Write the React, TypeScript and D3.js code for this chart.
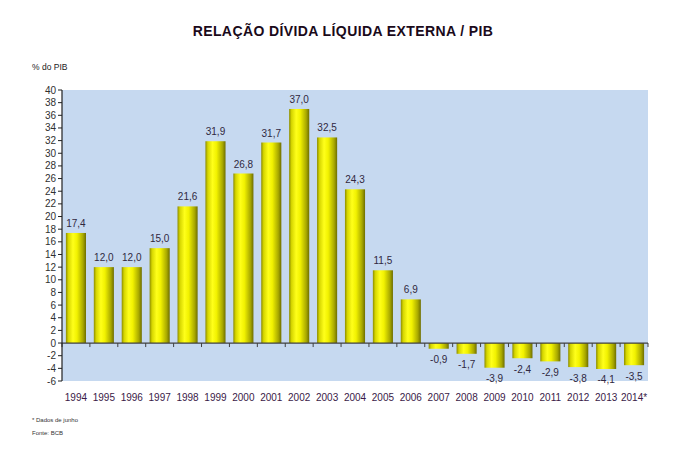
import React from "react";
import * as d3 from "d3";

const years = ["1994","1995","1996","1997","1998","1999","2000","2001","2002","2003","2004","2005","2006","2007","2008","2009","2010","2011","2012","2013","2014*"];
const values = [17.4,12.0,12.0,15.0,21.6,31.9,26.8,31.7,37.0,32.5,24.3,11.5,6.9,-0.9,-1.7,-3.9,-2.4,-2.9,-3.8,-4.1,-3.5];
const yTicks = d3.range(-6, 41, 2);

const W = 680, H = 449;
const left = 62, right = 648, top = 90, bottom = 381;

export default function App() {
  const x = d3.scaleBand<string>().domain(years).range([left, right]).paddingInner(0.28).paddingOuter(0.14);
  const xb = d3.scaleBand<string>().domain(years).range([left, right]);
  const y = d3.scaleLinear().domain([-6, 40]).range([bottom, top]);
  const fmt = (v: number) => v.toFixed(1).replace(".", ",");
  const font = "'Liberation Sans', Arial, sans-serif";
  return (
    <svg width={W} height={H} style={{ position: "absolute", left: 0, top: 0 }} fontFamily={font}>
      <defs>
        <linearGradient id="cyl" x1="0" x2="1" y1="0" y2="0">
          <stop offset="0%" stopColor="#8c8c00" />
          <stop offset="12%" stopColor="#d6d600" />
          <stop offset="35%" stopColor="#ffff1a" />
          <stop offset="55%" stopColor="#f2f200" />
          <stop offset="85%" stopColor="#a8a800" />
          <stop offset="100%" stopColor="#6e6e00" />
        </linearGradient>
      </defs>
      <rect width={W} height={H} fill="#fff" />
      <text x={343} y={36} textAnchor="middle" fontSize={14} letterSpacing={0.4} fontWeight="bold" fill="#1a0a1a">RELAÇÃO DÍVIDA LÍQUIDA EXTERNA / PIB</text>
      <text x={32} y={70} fontSize={8.5} fill="#222">% do PIB</text>
      <rect x={left} y={top} width={right - left} height={bottom - top} fill="#c6d9f0" />
      {values.map((v, i) => {
        const yr = years[i];
        const y0 = y(0), y1 = y(v);
        return (
          <g key={yr}>
            <rect x={x(yr)} y={Math.min(y0, y1)} width={x.bandwidth()} height={Math.abs(y1 - y0)} fill="url(#cyl)" />
            <text x={x(yr)! + x.bandwidth() / 2} y={v >= 0 ? y1 - 6 : y1 + 14.5} textAnchor="middle" fontSize={10} fill="#302840">{fmt(v)}</text>
          </g>
        );
      })}
      <line x1={left} x2={right} y1={y(0)} y2={y(0)} stroke="#404040" strokeWidth={1.2} />
      {years.map(yr => (
        <line key={"t" + yr} x1={xb(yr)!} x2={xb(yr)!} y1={y(0)} y2={y(0) + 4} stroke="#404040" />
      ))}
      <line x1={right} x2={right} y1={y(0)} y2={y(0) + 4} stroke="#404040" />
      <line x1={left} x2={left} y1={top} y2={bottom} stroke="#202020" strokeWidth={1.2} />
      {yTicks.map(t => (
        <g key={t}>
          <line x1={left - 4} x2={left} y1={y(t)} y2={y(t)} stroke="#202020" />
          <text x={left - 6} y={y(t) + 3.5} textAnchor="end" fontSize={10} fill="#303030">{t}</text>
        </g>
      ))}
      {years.map(yr => (
        <text key={"l" + yr} x={xb(yr)! + xb.bandwidth() / 2} y={401} textAnchor="middle" fontSize={10} fill="#3a1a48">{yr}</text>
      ))}
      <text x={32} y={422} fontSize={6} fill="#333">* Dados de junho</text>
      <text x={32} y={435} fontSize={6} fill="#333">Fonte:  BCB</text>
    </svg>
  );
}
